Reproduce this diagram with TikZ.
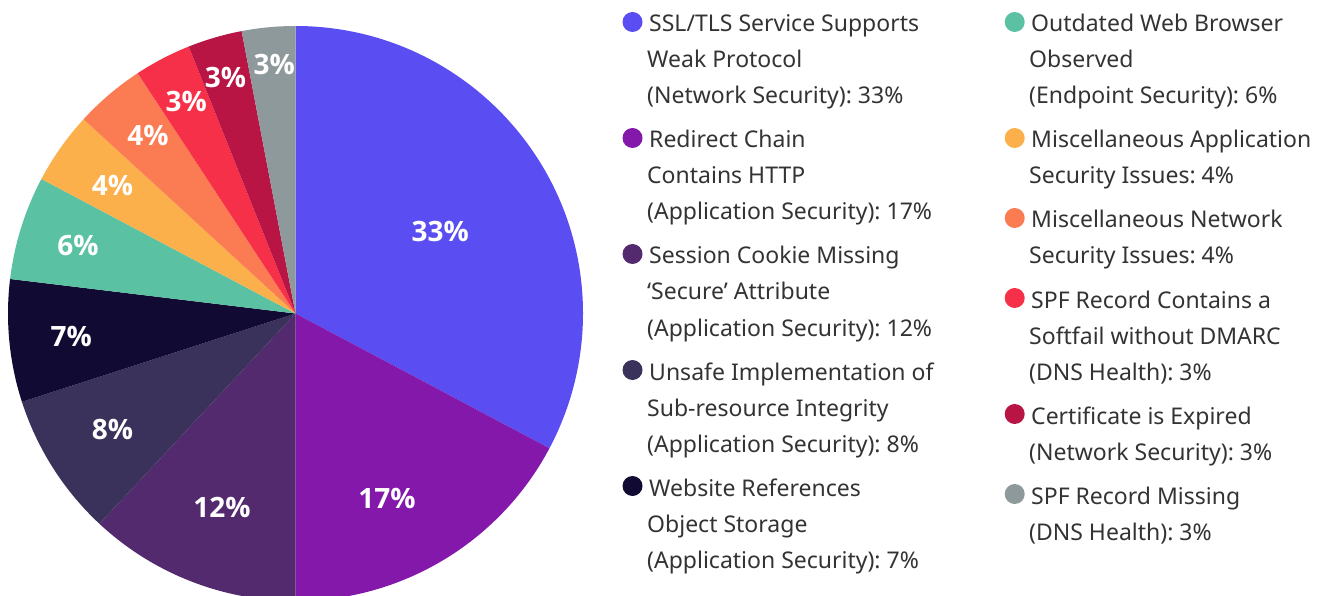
\documentclass[tikz,border=0pt]{standalone}
\usepackage{fontspec}
\setmainfont{Noto Sans}
\newfontfamily\pctfont{Open Sans}
\frenchspacing
\definecolor{cBlue}{HTML}{5A4DF2}
\definecolor{cPurple}{HTML}{8318AA}
\definecolor{cDPurple}{HTML}{522A6D}
\definecolor{cSlate}{HTML}{3A325A}
\definecolor{cBlack}{HTML}{110A33}
\definecolor{cTeal}{HTML}{5AC2A2}
\definecolor{cYellow}{HTML}{FBB04B}
\definecolor{cOrange}{HTML}{FB7B52}
\definecolor{cRed}{HTML}{F53048}
\definecolor{cCrimson}{HTML}{B81444}
\definecolor{cGray}{HTML}{8E999B}
\definecolor{cText}{HTML}{333333}
\newcommand{\pslice}[3]{\fill[#1] (C) -- ++(#2:287.5pt) arc[start angle=#2, end angle=#3, radius=287.5pt] -- cycle;}
\begin{document}
\begin{tikzpicture}[x=1pt,y=1pt,
  pct/.style={text=white, font=\pctfont\fontsize{28}{28}\selectfont\bfseries, inner sep=0pt},
  legtext/.style={text=cText, font=\fontsize{23}{23}\selectfont, anchor=base west, inner sep=0pt},
  bullet/.style={circle, minimum size=20pt, inner sep=0pt}]
\useasboundingbox (0,0) rectangle (1324,595);
\clip (0,0) rectangle (1324,595);
\coordinate (C) at (295.5,281.5);
% pie slices
\pslice{cBlue}{90}{-27.95}
\pslice{cPurple}{-27.95}{-90}
\pslice{cDPurple}{-90}{-133}
\pslice{cSlate}{-133}{-162.1}
\pslice{cBlack}{-162.1}{-186.9}
\pslice{cTeal}{-186.9}{-207.9}
\pslice{cYellow}{152.1}{137.5}
\pslice{cOrange}{137.5}{123.3}
\pslice{cRed}{123.3}{111.8}
\pslice{cCrimson}{111.8}{100.8}
\pslice{cGray}{100.8}{90}
% percentage labels
\node[pct] (p1) at (440.3,364) {33\%};
\node[pct] (p2) at (387,97) {17\%};
\node[pct] (p3) at (222,88) {12\%};
\node[pct] (p4) at (112.5,165.7) {8\%};
\node[pct] (p5) at (71.2,258.7) {7\%};
\node[pct] (p6) at (78,349.2) {6\%};
\node[pct] (p7) at (112.5,410) {4\%};
\node[pct] (p8) at (148,460) {4\%};
\node[pct] (p9) at (186.3,493.7) {3\%};
\node[pct] (p10) at (225.5,517.5) {3\%};
\node[pct] (p11) at (274.3,530.8) {3\%};
% legend column 1
\node[bullet, fill=cBlue] (b1) at (632.5,573) {};
\node[legtext] (t1a) at (649,563) {SSL/TLS Service Supports};
\node[legtext] (t1b) at (647,527) {Weak Protocol};
\node[legtext] (t1c) at (647,491) {(Network Security): 33\%};
\node[bullet, fill=cPurple] (b2) at (632.5,457) {};
\node[legtext] (t2a) at (649,447) {Redirect Chain};
\node[legtext] (t2b) at (647,411) {Contains HTTP};
\node[legtext] (t2c) at (647,375) {(Application Security): 17\%};
\node[bullet, fill=cDPurple] (b3) at (632.5,341) {};
\node[legtext] (t3a) at (649,331) {Session Cookie Missing};
\node[legtext] (t3b) at (647,295) {‘Secure’ Attribute};
\node[legtext] (t3c) at (647,259) {(Application Security): 12\%};
\node[bullet, fill=cSlate] (b4) at (632.5,225) {};
\node[legtext] (t4a) at (649,215) {Unsafe Implementation of};
\node[legtext] (t4b) at (647,179) {Sub-resource Integrity};
\node[legtext] (t4c) at (647,143) {(Application Security): 8\%};
\node[bullet, fill=cBlack] (b5) at (632.5,109) {};
\node[legtext] (t5a) at (649,99) {Website References};
\node[legtext] (t5b) at (647,63) {Object Storage};
\node[legtext] (t5c) at (647,27) {(Application Security): 7\%};
% legend column 2
\node[bullet, fill=cTeal] (b6) at (1014.7,573) {};
\node[legtext] (t6a) at (1031,563) {Outdated Web Browser};
\node[legtext] (t6b) at (1029,527) {Observed};
\node[legtext] (t6c) at (1029,491) {(Endpoint Security): 6\%};
\node[bullet, fill=cYellow] (b7) at (1014.7,457) {};
\node[legtext] (t7a) at (1031,447) {Miscellaneous Application};
\node[legtext] (t7b) at (1029,411) {Security Issues: 4\%};
\node[bullet, fill=cOrange] (b8) at (1014.7,377) {};
\node[legtext] (t8a) at (1031,367) {Miscellaneous Network};
\node[legtext] (t8b) at (1029,331) {Security Issues: 4\%};
\node[bullet, fill=cRed] (b9) at (1014.7,297) {};
\node[legtext] (t9a) at (1031,287) {SPF Record Contains a};
\node[legtext] (t9b) at (1029,251) {Softfail without DMARC};
\node[legtext] (t9c) at (1029,215) {(DNS Health): 3\%};
\node[bullet, fill=cCrimson] (b10) at (1014.7,181) {};
\node[legtext] (t10a) at (1031,171) {Certificate is Expired};
\node[legtext] (t10b) at (1029,135) {(Network Security): 3\%};
\node[bullet, fill=cGray] (b11) at (1014.7,101) {};
\node[legtext] (t11a) at (1031,91) {SPF Record Missing};
\node[legtext] (t11b) at (1029,55) {(DNS Health): 3\%};
\end{tikzpicture}
\end{document}
